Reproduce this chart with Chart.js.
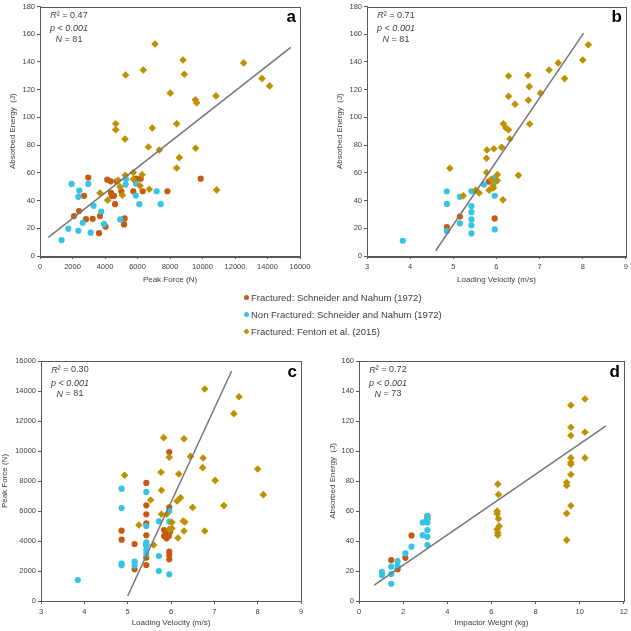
<!DOCTYPE html>
<html>
<head>
<meta charset="utf-8">
<script src="https://cdn.jsdelivr.net/npm/chart.js@4.4.1/dist/chart.umd.min.js"></script>
<style>
html,body{margin:0;padding:0;background:#fff;width:631px;height:631px;overflow:hidden;font-family:"Liberation Sans",Arial,sans-serif}
.panel{position:absolute}
#legend{position:absolute;left:244px;top:289px;font-size:9.5px;color:#404040;line-height:17px;white-space:nowrap}
#legend .mk{display:inline-block;width:5px;height:5px;margin-right:2px;vertical-align:1px}
</style>
</head>
<body>

<div class="panel" style="left:0;top:0;width:315px;height:300px"><canvas id="cA"></canvas></div>
<div class="panel" style="left:320px;top:0;width:311px;height:300px"><canvas id="cB"></canvas></div>
<div class="panel" style="left:0;top:340px;width:315px;height:291px"><canvas id="cC"></canvas></div>
<div class="panel" style="left:320px;top:340px;width:311px;height:291px"><canvas id="cD"></canvas></div>

<div id="legend">
  <div><span class="mk" style="background:#C55A11;border-radius:50%"></span>Fractured: Schneider and Nahum (1972)</div>
  <div><span class="mk" style="background:#35C3E8;border-radius:50%"></span>Non Fractured: Schneider and Nahum (1972)</div>
  <div><span class="mk" style="background:#BF9000;transform:rotate(45deg) scale(.85)"></span>Fractured: Fenton et al. (2015)</div>
</div>

<script>
/* ── series names / colours ── */
const SERIES = ['Fractured: Schneider and Nahum (1972)','Non Fractured: Schneider and Nahum (1972)','Fractured: Fenton et al. (2015)'];
const COL = { org:'#C55A11', cyan:'#35C3E8', gold:'#BF9000', trend:'#767676', axis:'#595959', text:'#404040' };

/* ── a: peak force (N) vs absorbed energy (J) ── */
const aOrange = [[2970,56.6],[4140,55.1],[4350,53.9],[4720,53.9],[5910,55.8],[6200,55.8],[9890,55.8],[2710,43.4],[4370,45.5],[4410,43.4],[4550,43.4],[5000,46.7],[5740,46.7],[6320,46.7],[7840,46.7],[4620,37.4],[2400,32.4],[2090,28.8],[2830,26.6],[3240,26.8],[3690,28.8],[4040,21.1],[3630,16.5],[5210,27.1],[5170,22.8]];
const aCyan   = [[1950,52],[2970,52],[2420,47.2],[2360,42.7],[3300,36.2],[3770,32.1],[1740,19.7],[1330,11.5],[2360,18.2],[2630,24],[3120,16.8],[3940,23],[4940,26.4],[5270,51.5],[5910,52.3],[5890,43.6],[6110,37.4],[7430,37.4],[7180,46.7],[5290,55.5]];
const aGold   = [[7080,152.9],[8800,141.4],[8880,131.1],[5270,130.6],[6360,134.2],[12530,139.3],[13660,128],[14130,122.7],[8020,117.5],[10830,115.5],[9560,112.7],[9640,110.5],[4660,95.4],[8410,95.4],[4660,91.1],[6910,92.3],[5230,84.4],[6670,78.6],[9580,77.7],[7340,76.5],[8570,71],[8410,63.5],[10870,47.7],[5250,58.3],[5740,60.2],[6280,58.7],[5740,55.4],[4820,54.7],[6150,50.6],[4920,49.9],[6730,48.2],[3690,45.5],[5070,43.9],[4160,40.3]];
const aTrend  = [[510,13.4],[15430,150.5]];

/* ── b: loading velocity (m/s) vs absorbed energy (J) ── */
const bOrange = [[5.82,53.7],[5.96,27.1],[5.15,28.5],[4.85,20.9]];
const bCyan   = [[3.83,11],[4.85,46.7],[4.85,37.6],[4.85,18],[5.15,42.7],[5.15,23.5],[5.42,46.7],[5.42,36],[5.42,31.6],[5.42,26.4],[5.42,22.1],[5.42,16.3],[5.71,51.5],[5.96,56.3],[5.96,53.5],[5.96,43.4],[5.96,19.2]];
const bGold   = [[8.13,152.4],[8.0,141.4],[7.43,139.3],[7.22,134.2],[6.73,130.4],[6.28,129.9],[7.58,128],[6.76,122.2],[7.02,117.5],[6.28,115.3],[6.74,112.4],[6.43,109.5],[6.16,95.4],[6.77,95.2],[6.22,92.3],[6.28,91.1],[6.31,84.4],[6.12,78.4],[5.78,76.5],[5.94,77.4],[5.77,70.5],[4.92,63.3],[5.77,60.2],[6.51,58.2],[6.02,58.7],[5.88,55.4],[6.02,54.4],[5.93,49.1],[5.92,50.6],[5.83,47.5],[5.52,47.5],[5.6,45.5],[5.23,43.4],[6.15,40.5]];
const bTrend  = [[4.59,3.8],[8.02,160.8]];

/* ── c: loading velocity (m/s) vs peak force (N) ── */
const cOrange = [[5.96,9930],[5.43,7870],[5.43,6380],[5.43,5780],[5.43,5180],[5.43,4380],[5.43,3730],[5.43,2890],[5.43,2400],[4.86,4690],[4.86,4090],[5.16,3800],[5.16,2110],[5.84,4730],[5.84,4330],[5.9,4180],[5.95,4330],[5.98,4620],[5.96,6240],[5.96,3290],[5.96,3070],[5.96,2780],[5.93,4450]];
const cCyan   = [[3.85,1400],[4.86,7490],[4.86,6200],[4.86,2490],[4.86,2380],[5.16,2620],[5.16,2360],[5.43,7270],[5.43,5000],[5.43,3910],[5.43,3730],[5.43,3400],[5.43,3130],[5.72,5310],[5.72,3000],[5.72,2000],[5.96,6000],[5.96,5290],[5.96,1780]];
const cGold   = [[4.93,8380],[6.78,14130],[7.57,13620],[7.45,12490],[5.83,10890],[6.3,10820],[5.96,9580],[6.45,9640],[6.74,9530],[6.73,8890],[8.0,8800],[5.77,8580],[6.18,8470],[7.02,8040],[5.78,7380],[8.13,7090],[6.22,6890],[6.14,6670],[5.53,6730],[7.22,6360],[6.5,6240],[5.78,5780],[5.9,5780],[6.28,5330],[6.32,5270],[5.26,5070],[6.02,5240],[6.02,4840],[5.96,4800],[6.3,4670],[6.78,4670],[6.16,4200],[5.6,3730]];
const cTrend  = [[5.0,330],[7.4,15330]];

/* ── d: impactor weight (kg) vs absorbed energy (J) ── */
const dOrange = [[1.46,27.3],[1.75,21.1],[2.1,28.8],[2.38,43.7],[3.1,56.6],[3.1,54.8]];
const dCyan   = [[1.04,19.5],[1.04,17.3],[1.46,22.9],[1.46,18],[1.46,11.5],[1.75,26.6],[1.75,23.5],[2.1,31.7],[2.38,36.2],[2.89,52.4],[2.89,43.9],[3.1,56.8],[3.1,52.4],[3.1,47.3],[3.1,42.8],[3.1,37.3],[3.1,55]];
const dGold   = [[6.29,77.9],[6.32,71],[6.26,59.9],[6.26,58.1],[6.32,54.8],[6.35,49.9],[6.26,47.9],[6.29,45.5],[6.29,43.9],[9.41,79],[9.41,77],[9.41,58.4],[9.41,40.6],[9.6,130.5],[9.6,115.8],[9.6,110.3],[9.6,95.4],[9.6,92.3],[9.6,91.2],[9.6,84.3],[9.6,63.5],[10.24,134.7],[10.24,112.5],[10.24,95.4]];
const dTrend  = [[0.69,10.65],[11.19,116.7]];

const FONT = '"Liberation Sans", Arial, sans-serif';
const pts = arr => arr.map(([x,y])=>({x,y}));

/* stats text, panel letter, plot frame */
const panelText = {
  id:'panelText',
  afterDraw(chart, args, o) {
    const {ctx, chartArea:a} = chart;
    ctx.save();
    ctx.strokeStyle = COL.axis; ctx.lineWidth = 1;
    ctx.strokeRect(Math.round(a.left)+.5, Math.round(a.top)+.5, Math.round(a.right-a.left), Math.round(a.bottom-a.top));
    ctx.fillStyle = COL.text;
    ctx.textBaseline = 'middle';
    const cx = a.left + 29;
    const seg = (parts, y) => {
      let w = 0;
      parts.forEach(([t,f])=>{ ctx.font = f; w += ctx.measureText(t).width; });
      let x = cx - w/2;
      ctx.textAlign = 'left';
      parts.forEach(([t,f])=>{ ctx.font = f; ctx.fillText(t, x, y); x += ctx.measureText(t).width; });
    };
    const it = 'italic 9px '+FONT, nr = '9px '+FONT;
    seg([['R',it],['²',nr],[' = '+o.r2,nr]], a.top+9);
    seg([['p < 0.001',it]], a.top+22);
    seg([['N',it],[' = '+o.n,nr]], a.top+33);
    ctx.font = 'bold 17px '+FONT;
    ctx.textAlign = 'right';
    ctx.fillStyle = '#000';
    ctx.fillText(o.letter, a.right-4, a.top+11);
    ctx.restore();
  }
};
Chart.register(panelText);

function makePanel(id, cfg) {
  const tickFont = { family:FONT, size:7.5 };
  const titleFont = { family:FONT, size:8 };
  const sc = (s, isX) => ({
    type:'linear', min:s.min, max:s.max,
    ticks:{ stepSize:s.step, color:COL.text, font:tickFont, padding:isX?3:2, callback:v=>String(v) },
    grid:{ drawOnChartArea:false, tickLength:3, color:COL.axis },
    border:{ display:true, color:COL.axis },
    title:{ display:true, text:s.title, color:COL.text, font:titleFont, padding:s.tpad },
    afterFit: sc => { if (isX) sc.height = s.size; else sc.width = s.size; }
  });
  return new Chart(document.getElementById(id), {
    type:'scatter',
    data:{ datasets:[
      { label:'trend', type:'line', data:pts(cfg.trend), borderColor:COL.trend, borderWidth:1.5, pointRadius:0, fill:false, order:0 },
      { label:SERIES[2], data:pts(cfg.gold), pointStyle:'rectRot', pointRadius:3.8, backgroundColor:COL.gold, borderWidth:0, order:1 },
      { label:SERIES[1], data:pts(cfg.cyan), pointStyle:'circle', pointRadius:3.1, backgroundColor:COL.cyan, borderWidth:0, order:2 },
      { label:SERIES[0], data:pts(cfg.orange), pointStyle:'circle', pointRadius:3.1, backgroundColor:COL.org, borderWidth:0, order:3 }
    ]},
    options:{
      responsive:true, maintainAspectRatio:false, animation:false,
      layout:{ padding:cfg.pad },
      plugins:{ legend:{ display:false }, tooltip:{ enabled:false }, panelText:cfg.text },
      scales:{ x:sc(cfg.x, true), y:sc(cfg.y, false) }
    }
  });
}

makePanel('cA', {
  orange:aOrange, cyan:aCyan, gold:aGold, trend:aTrend,
  pad:{ top:6, right:15, left:0, bottom:0 },
  x:{ min:0, max:16000, step:2000, title:'Peak Force (N)', size:44, tpad:{top:0,bottom:15} },
  y:{ min:0, max:180, step:20, title:'Absorbed Energy  (J)', size:40, tpad:{top:8,bottom:0} },
  text:{ letter:'a', r2:'0.47', n:'81' }
});
makePanel('cB', {
  orange:bOrange, cyan:bCyan, gold:bGold, trend:bTrend,
  pad:{ top:6, right:4, left:0, bottom:0 },
  x:{ min:3, max:9, step:1, title:'Loading Velocity (m/s)', size:44, tpad:{top:0,bottom:15} },
  y:{ min:0, max:180, step:20, title:'Absorbed Energy  (J)', size:47, tpad:{top:15,bottom:0} },
  text:{ letter:'b', r2:'0.71', n:'81' }
});
makePanel('cC', {
  orange:cOrange, cyan:cCyan, gold:cGold, trend:cTrend,
  pad:{ top:21, right:14, left:0, bottom:0 },
  x:{ min:3, max:9, step:1, title:'Loading Velocity (m/s)', size:30, tpad:{top:0,bottom:3} },
  y:{ min:0, max:16000, step:2000, title:'Peak Force (N)', size:41, tpad:{top:0,bottom:0} },
  text:{ letter:'c', r2:'0.30', n:'81' }
});
makePanel('cD', {
  orange:dOrange, cyan:dCyan, gold:dGold, trend:dTrend,
  pad:{ top:21, right:7, left:0, bottom:0 },
  x:{ min:0, max:12, step:2, title:'Impactor Weight (kg)', size:30, tpad:{top:0,bottom:3} },
  y:{ min:0, max:160, step:20, title:'Absorbed Energy  (J)', size:39, tpad:{top:8,bottom:0} },
  text:{ letter:'d', r2:'0.72', n:'73' }
});
</script>
</body>
</html>
